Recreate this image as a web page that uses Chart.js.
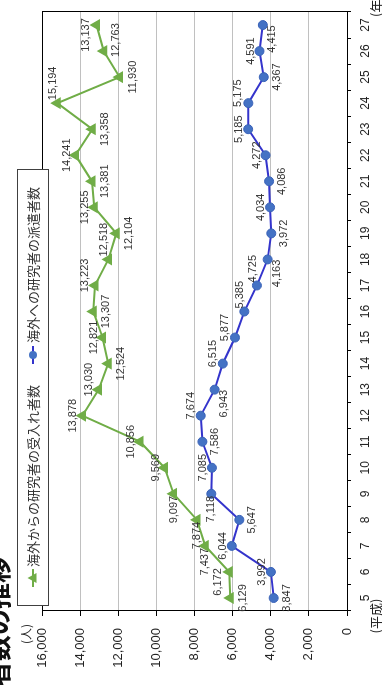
<!DOCTYPE html>
<html>
<head>
<meta charset="utf-8">
<script src="https://cdn.jsdelivr.net/npm/chart.js@4/dist/chart.umd.min.js"></script>
<style>
  html, body { margin: 0; padding: 0; background: #fff; }
  body { width: 382px; height: 685px; overflow: hidden; position: relative; }
  #wrap { position: absolute; left: 0; top: 0; width: 685px; height: 382px;
          transform-origin: 0 0; transform: translate(0px, 685px) rotate(-90deg); }
  canvas { display: block; }
</style>
</head>
<body>
<div id="wrap"><canvas id="c" width="685" height="382" style="width:685px;height:382px"></canvas></div>
<script>
// ---- data ----
const categories = ['5','6','7','8','9','10','11','12','13','14','15','16','17','18','19','20','21','22','23','24','25','26','27'];
const inboundResearchers = [6129, 6172, 7437, 7874, 9097, 9569, 10856, 13878, 13030, 12524, 12821, 13307, 13223, 12518, 12104, 13255, 13381, 14241, 13358, 15194, 11930, 12763, 13137];
const outboundResearchers = [3847, 3992, 6044, 5647, 7118, 7085, 7586, 7674, 6943, 6515, 5877, 5385, 4725, 4163, 3972, 4034, 4086, 4272, 5185, 5175, 4367, 4591, 4415];
const seriesNames = ['海外からの研究者の受入れ者数', '海外への研究者の派遣者数'];
const titleText = '海外への派遣研究者数及び受入れ研究者数の推移';
const yUnit = '(人)';
const xUnitStart = '(平成)';
const xUnitEnd = '(年度)';

// ---- label placement (style) ----
const inboundLabelPos = ['b','al','l','l','l','a','a','a','ar','b','a','b','ar','r','b','a','b','a','b','r','b','br','al'];
const outboundLabelPos = ['b','a','a','b','l','a','b','ar','bl','ar','ar','r','r','bl','b','a','b','a','a','ar','b','a','bl'];

const GREEN = '#70AD47';
const BLUE_LINE = '#3434CC';
const BLUE_PT = '#4472C4';
const FONT = '"Liberation Sans", Arial, "Noto Sans CJK JP", sans-serif';
const JFONT = '"Noto Sans CJK JP", "Noto Sans", sans-serif';

const fmt = v => v.toLocaleString('en-US');

const overlay = {
  id: 'overlay',
  afterDatasetsDraw(chart) {
    const ctx = chart.ctx;
    const ca = chart.chartArea;
    ctx.save();
    // plot border
    ctx.strokeStyle = '#000';
    ctx.lineWidth = 1;
    ctx.strokeRect(Math.round(ca.left) + 0.5, Math.round(ca.top) + 0.5, Math.round(ca.right - ca.left), Math.round(ca.bottom - ca.top));

    // data labels
    ctx.font = '11px ' + FONT;
    ctx.fillStyle = '#333';
    ctx.textBaseline = 'middle';
    ctx.textAlign = 'center';
    const posSets = [inboundLabelPos, outboundLabelPos];
    chart.data.datasets.forEach((ds, di) => {
      const meta = chart.getDatasetMeta(di);
      meta.data.forEach((pt, i) => {
        const txt = fmt(ds.data[i]);
        const w = ctx.measureText(txt).width;
        const x = pt.x, y = pt.y;
        let cx = x, cy = y;
        switch (posSets[di][i]) {
          case 'a': cx = x; cy = y - 9; break;
          case 'b': cx = x; cy = y + 13; break;
          case 'l': cx = x - 2 - w / 2; cy = y; break;
          case 'r': cx = x + 3 + w / 2; cy = y - 4; break;
          case 'ar': cx = x + 10; cy = y - 10; break;
          case 'al': cx = x - 10; cy = y - 11; break;
          case 'br': cx = x + 11; cy = y + 12; break;
          case 'bl': cx = x - 14; cy = y + 9; break;
        }
        ctx.fillText(txt, cx, cy);
      });
    });
    ctx.restore();
  },
  afterDraw(chart) {
    const ctx = chart.ctx;
    ctx.save();
    // title (mostly cropped)
    ctx.font = 'bold 26px ' + JFONT;
    ctx.fillStyle = '#111';
    ctx.textAlign = 'right';
    ctx.textBaseline = 'middle';
    ctx.fillText(titleText, 128, -2);

    // unit labels
    ctx.font = '12px ' + JFONT;
    ctx.fillStyle = '#222';
    ctx.textAlign = 'center';
    ctx.fillText(yUnit, 51, 26);
    ctx.font = '13px ' + JFONT;
    ctx.fillText(xUnitStart, 69, 376);
    ctx.textAlign = 'left';
    ctx.fillText(xUnitEnd, 668, 376);

    // legend
    const bx = 79.5, by = 17.5, bw = 436, bh = 31;
    ctx.fillStyle = '#fff';
    ctx.fillRect(bx, by, bw, bh);
    ctx.strokeStyle = '#404040';
    ctx.lineWidth = 1;
    ctx.strokeRect(bx, by, bw, bh);
    const ly = 33;
    // item 1
    ctx.strokeStyle = GREEN; ctx.lineWidth = 2;
    ctx.beginPath(); ctx.moveTo(98, ly); ctx.lineTo(116, ly); ctx.stroke();
    ctx.fillStyle = GREEN;
    ctx.beginPath(); ctx.moveTo(107, ly - 5.5); ctx.lineTo(112, ly + 3.5); ctx.lineTo(102, ly + 3.5); ctx.closePath(); ctx.fill();
    // item 2
    ctx.strokeStyle = BLUE_LINE;
    ctx.beginPath(); ctx.moveTo(321, ly); ctx.lineTo(339, ly); ctx.stroke();
    ctx.fillStyle = BLUE_PT;
    ctx.beginPath(); ctx.arc(330, ly, 4, 0, Math.PI * 2); ctx.fill();
    ctx.font = '13px ' + JFONT;
    ctx.fillStyle = '#333';
    ctx.textAlign = 'left';
    ctx.textBaseline = 'middle';
    ctx.fillText(seriesNames[0], 118, ly);
    ctx.fillText(seriesNames[1], 342, ly);
    ctx.restore();
  }
};

new Chart(document.getElementById('c'), {
  type: 'line',
  data: {
    labels: categories,
    datasets: [
      {
        label: seriesNames[0],
        data: inboundResearchers,
        borderColor: GREEN,
        backgroundColor: GREEN,
        borderWidth: 2,
        pointStyle: 'triangle',
        pointRadius: 5,
        pointBackgroundColor: GREEN,
        pointBorderColor: GREEN,
        tension: 0,
        fill: false
      },
      {
        label: seriesNames[1],
        data: outboundResearchers,
        borderColor: BLUE_LINE,
        backgroundColor: BLUE_PT,
        borderWidth: 2,
        pointStyle: 'circle',
        pointRadius: 4.5,
        pointBackgroundColor: BLUE_PT,
        pointBorderColor: '#3A62B8',
        pointBorderWidth: 1,
        tension: 0,
        fill: false
      }
    ]
  },
  options: {
    responsive: false,
    animation: false,
    devicePixelRatio: 1,
    layout: { padding: { top: 42, right: 12, bottom: 0, left: 0 } },
    plugins: { legend: { display: false }, tooltip: { enabled: false }, title: { display: false } },
    scales: {
      x: {
        type: 'category',
        offset: true,
        grid: { offset: true, drawOnChartArea: false, tickLength: 4, tickColor: '#000', color: '#000' },
        border: { color: '#000', width: 1 },
        ticks: { font: { size: 12, family: FONT }, color: '#222', padding: 7, maxRotation: 0, autoSkip: false },
        afterFit(s) { s.height = 35; }
      },
      y: {
        min: 0, max: 16000,
        ticks: { stepSize: 2000, font: { size: 13, family: FONT }, color: '#222', padding: 12 },
        grid: { color: '#c0c0c0', tickColor: '#000', tickLength: 5, lineWidth: 1 },
        border: { color: '#000', width: 1 },
        afterFit(s) { s.width = 74; }
      }
    }
  },
  plugins: [overlay]
});
</script>
</body>
</html>
